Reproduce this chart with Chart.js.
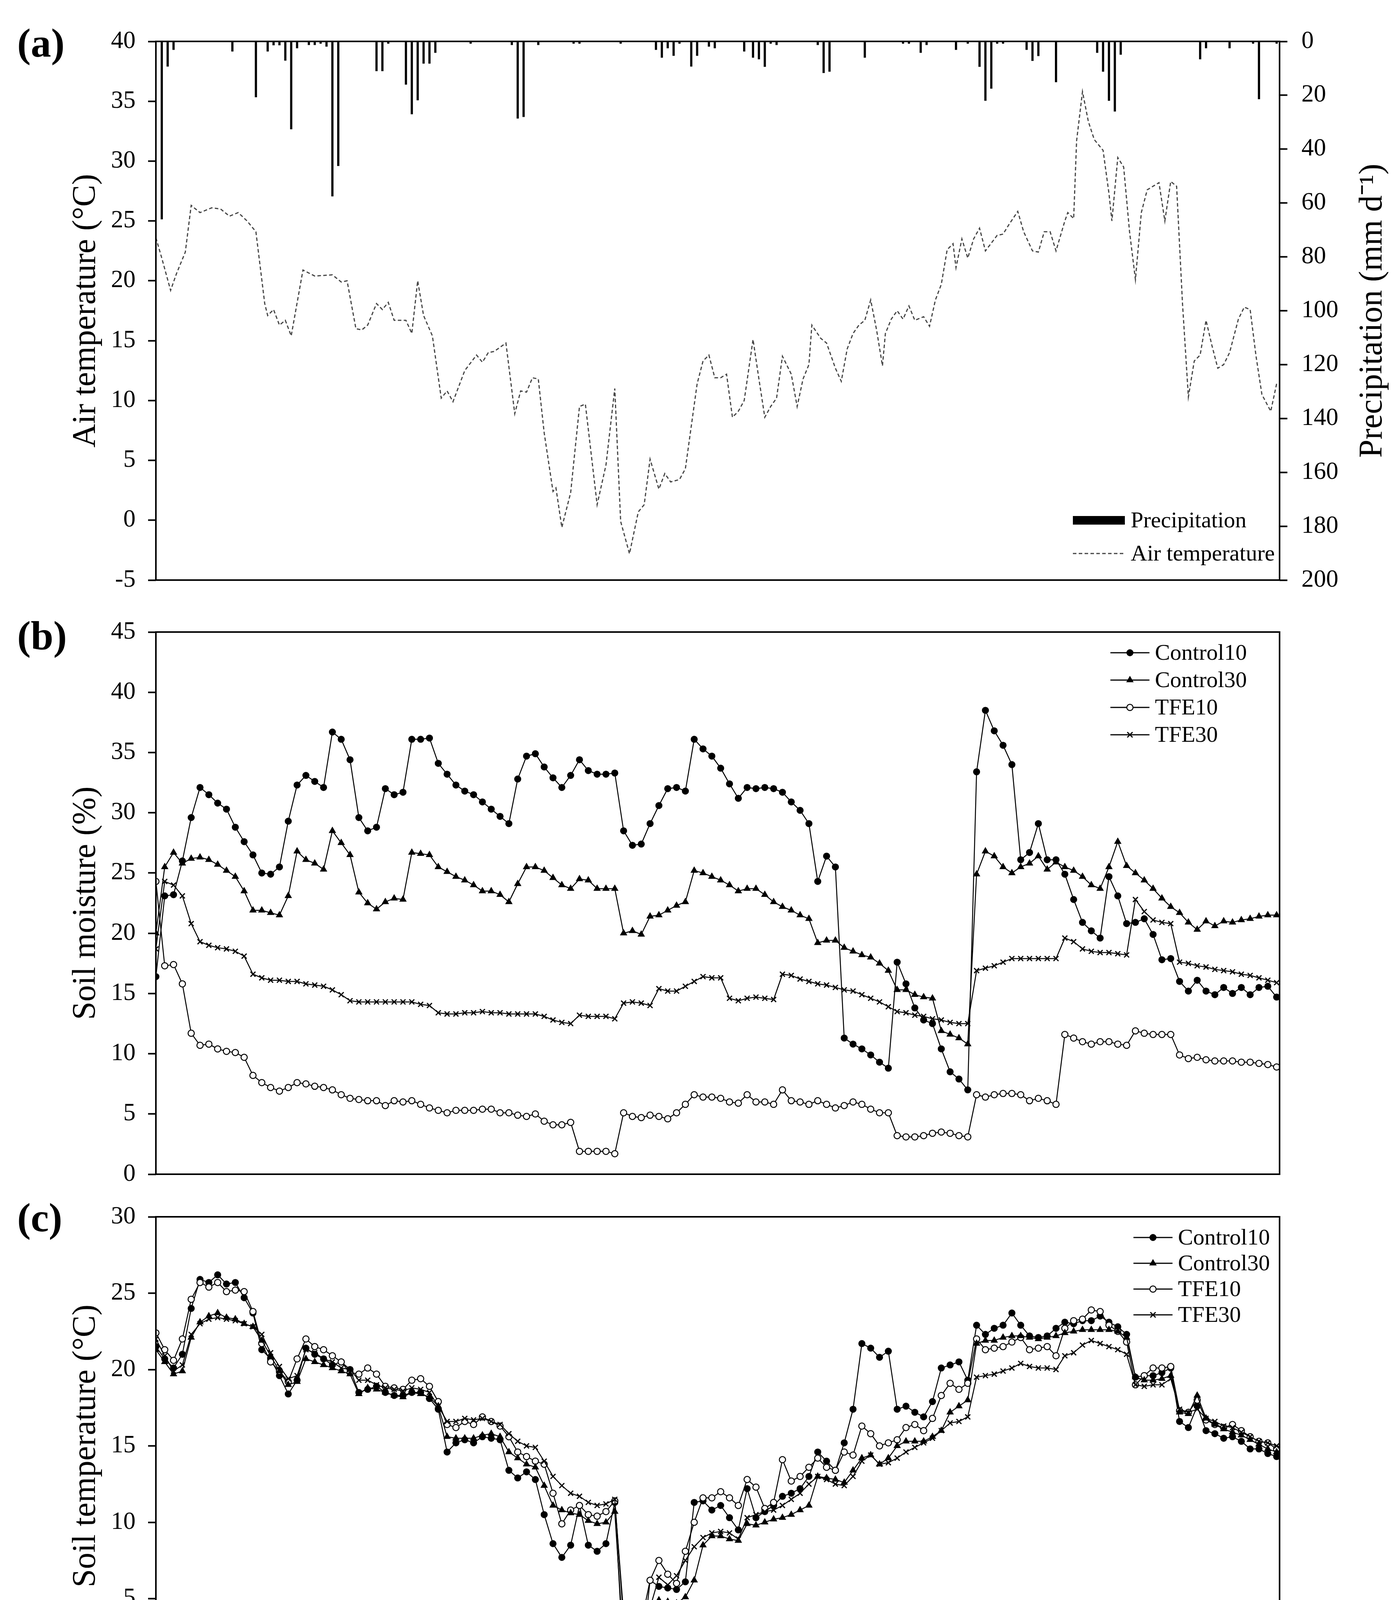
<!DOCTYPE html>
<html>
<head>
<meta charset="utf-8">
<title>Air temperature, soil moisture and soil temperature</title>
<script src="https://cdn.jsdelivr.net/npm/chart.js@4.4.0/dist/chart.umd.min.js"></script>
<style>
  html, body { margin: 0; padding: 0; background: #fff; }
  #page { position: relative; width: 3573px; height: 4612px; background: #fff; }
  #page canvas { position: absolute; left: 0; }
</style>
</head>
<body>
<div id="page">
  <canvas id="airChart" width="3573" height="1530" style="top:0px"></canvas>
  <canvas id="moistChart" width="3573" height="1520" style="top:1530px"></canvas>
  <canvas id="soilTChart" width="3573" height="1562" style="top:3050px"></canvas>
</div>
<script>
// x axis runs over measurement days; the winter gap is left out of the record
const X_MAX = 382;
const SAMPLE_STEP = 3;
const DIVIDER_DAY = 147.3;
const monthDays = [7.6, 36.3, 67.5, 96.8, 127.6, 164.8, 198.1, 231.3, 263.0, 296.3, 329.6, 361.4];
const monthNames = ['Jul', 'Aug', 'Sep', 'Oct', 'Nov', 'Mar', 'Apr', 'Jun', 'July', 'Aug', 'Sep', 'Oct'];
const yearDays = [80.2, 270.1];
const yearNames = ['2016', '2017'];

// (a) precipitation, mm per day
const precipDays = [2,4,6,26,34,38,40,42,44,46,48,52,54,56,58,60,62,75,77,79,85,87,89,91,93,95,107,121,123,125,
  130,142,144,158,170,172,174,176,178,182,184,188,190,200,203,205,207,209,211,225,227,229,241,254,256,260,262,272,276,280,
  282,284,286,288,296,298,300,306,320,322,324,326,328,355,357,365,373,375,381];
const precipMm = [66,9.3,3.1,3.7,20.7,3.7,1.4,1.4,7.1,32.6,2.5,1.3,1.3,0.8,1.9,57.5,46.2,11,11,0.8,16,27,21.8,8.2,8.2,4.2,0.8,1.3,28.6,28,
  1.3,0.8,0.8,0.8,3.1,6,2.5,5.3,0.8,9.3,5.3,1.9,2.5,3.7,6,6.6,9.4,0.8,1.3,1.3,11.7,11.2,6,0.8,0.8,4.2,1.3,3.1,0.8,9.4,
  22,17.5,0.8,0.8,3.1,7.2,5.4,15.1,4.2,11.2,22,26,4.9,6.6,2.5,2.5,0.8,21.4,0.8];

// (a) air temperature, degC
const airDays = [0,2,5,7,10,12,15,19,22,25,28,31,34,37,38,40,42,44,46,50,54,60,63,65,68,70,72,75,77,79,
  81,85,87,89,91,94,97,99,101,105,109,111,113,115,119,122,124,126,128,130,132,135,136,138,141,144,146,150,153,156,
  158,161,164,166,168,171,173,175,178,180,184,186,188,190,192,194,196,198,200,203,205,207,209,211,213,216,218,220,222,223,
  226,228,231,233,235,237,239,241,243,245,247,248,250,252,254,256,258,261,263,265,267,269,271,272,274,276,278,280,282,286,
  288,290,293,295,298,300,302,304,306,309,310,312,313,315,317,319,322,324,325,327,329,331,333,335,337,339,341,343,345,347,
  349,351,353,355,357,359,361,363,365,368,370,372,374,376,379,381];
const airTemp = [23.6,21.9,19.2,20.6,22.4,26.3,25.7,26.1,26.0,25.4,25.7,25.0,24.1,18.1,17.1,17.6,16.3,16.7,15.4,20.9,
  20.4,20.5,19.9,20.0,16.0,15.9,16.3,18.1,17.6,18.2,16.7,16.7,15.6,20.0,17.1,15.4,10.2,10.8,9.9,12.5,
  13.8,13.2,14.0,14.1,14.8,8.9,10.8,10.7,11.9,11.8,7.3,2.4,2.7,-0.6,2.3,9.5,9.7,1.3,4.6,11.0,
  -0.1,-2.8,0.7,1.3,5.1,2.6,3.9,3.2,3.4,4.3,11.4,13.3,13.8,11.9,11.9,12.2,8.6,9.1,10.0,15.1,
  11.8,8.6,9.5,10.2,13.7,12.2,9.5,11.8,13.0,16.3,15.2,14.8,12.7,11.6,14.3,15.6,16.3,16.7,18.4,15.9,
  12.9,15.6,16.8,17.5,16.8,17.9,16.7,17.0,16.2,18.4,19.7,22.6,23.1,21.1,23.5,21.9,23.5,24.4,22.5,23.8,
  23.9,24.7,25.8,24.1,22.5,22.4,24.1,24.1,22.5,25.0,25.7,25.2,31.7,35.8,33.3,31.8,30.9,27.3,25.0,30.3,
  29.5,24.1,20.1,25.7,27.6,27.9,28.2,25.0,28.3,27.9,18.1,10.3,13.3,13.8,16.7,14.6,12.7,13.0,14.0,16.8,
  17.8,17.6,13.7,10.5,9.1,11.4];

// (b) soil moisture, %, one reading every SAMPLE_STEP days
const moistControl10 = [16.4,23.1,23.2,26.0,29.6,32.1,31.5,30.8,30.3,28.8,27.6,26.5,25.0,24.9,25.5,29.3,32.3,33.1,32.6,32.1,
  36.7,36.1,34.4,29.6,28.5,28.8,32.0,31.5,31.7,36.1,36.1,36.2,34.1,33.2,32.3,31.8,31.5,30.9,30.3,29.7,
  29.1,32.8,34.7,34.9,33.8,32.9,32.1,33.1,34.4,33.5,33.2,33.2,33.3,28.5,27.3,27.4,29.1,30.6,32.0,32.1,
  31.8,36.1,35.3,34.7,33.7,32.4,31.2,32.1,32.0,32.1,32.0,31.7,30.9,30.2,29.1,24.3,26.4,25.5,11.3,10.8,
  10.4,9.9,9.3,8.8,17.6,15.8,13.8,12.8,12.5,10.4,8.5,7.9,7.0,33.4,38.5,36.8,35.6,34.0,26.1,26.7,
  29.1,26.1,26.1,24.9,22.8,20.9,20.2,19.6,24.7,23.1,20.8,20.9,21.2,19.9,17.8,17.9,16.0,15.2,16.1,15.2,
  14.9,15.5,15.0,15.5,14.9,15.5,15.6,14.7];
const moistControl30 = [20.0,25.5,26.7,25.8,26.2,26.3,26.1,25.7,25.2,24.7,23.5,21.9,21.9,21.7,21.5,23.1,26.8,26.1,25.8,25.3,
  28.5,27.5,26.5,23.4,22.5,22.0,22.6,22.9,22.8,26.7,26.6,26.5,25.5,25.1,24.7,24.4,24.0,23.5,23.5,23.2,
  22.6,24.1,25.5,25.5,25.2,24.6,24.0,23.7,24.5,24.4,23.7,23.7,23.7,20.0,20.2,19.9,21.4,21.5,21.9,22.3,
  22.6,25.2,25.0,24.7,24.4,24.0,23.5,23.7,23.7,23.2,22.6,22.2,21.9,21.5,21.2,19.2,19.4,19.4,18.8,18.5,
  18.2,18.0,17.5,16.9,15.3,15.3,14.9,14.7,14.6,11.9,11.6,11.3,10.8,24.9,26.8,26.4,25.5,25.0,25.5,25.8,
  26.4,25.3,25.9,25.5,25.2,24.7,24.0,23.7,25.5,27.6,25.6,25.0,24.4,23.7,22.9,22.2,21.7,20.9,20.3,21.0,
  20.6,21.0,20.9,21.1,21.2,21.4,21.5,21.5];
const moistTFE10 = [24.3,17.3,17.4,15.8,11.7,10.7,10.8,10.4,10.2,10.1,9.7,8.2,7.6,7.2,6.9,7.2,7.6,7.5,7.3,7.2,
  7.0,6.6,6.3,6.2,6.1,6.1,5.7,6.1,6.0,6.1,5.8,5.5,5.3,5.1,5.3,5.3,5.3,5.4,5.4,5.1,
  5.1,4.9,4.8,5.0,4.4,4.1,4.1,4.3,1.9,1.9,1.9,1.9,1.7,5.1,4.8,4.7,4.9,4.8,4.6,5.1,
  5.8,6.6,6.4,6.4,6.3,6.0,5.9,6.6,6.0,6.0,5.8,7.0,6.1,6.0,5.8,6.1,5.8,5.5,5.7,6.0,
  5.8,5.4,5.1,5.1,3.2,3.1,3.1,3.2,3.4,3.5,3.4,3.2,3.1,6.6,6.4,6.6,6.7,6.7,6.6,6.1,
  6.3,6.1,5.8,11.6,11.3,11.0,10.8,11.0,11.0,10.8,10.7,11.9,11.7,11.6,11.6,11.6,9.9,9.6,9.7,9.5,
  9.4,9.4,9.4,9.3,9.3,9.2,9.1,8.9];
const moistTFE30 = [18.7,24.3,24.0,23.1,20.8,19.3,19.0,18.8,18.7,18.5,18.1,16.6,16.3,16.1,16.1,16.0,16.0,15.8,15.7,15.6,
  15.3,14.9,14.4,14.3,14.3,14.3,14.3,14.3,14.3,14.3,14.1,14.0,13.4,13.3,13.3,13.4,13.4,13.5,13.4,13.4,
  13.3,13.3,13.3,13.3,13.1,12.8,12.6,12.5,13.2,13.1,13.1,13.1,12.9,14.2,14.3,14.2,14.0,15.4,15.2,15.2,
  15.6,16.0,16.4,16.3,16.3,14.6,14.4,14.6,14.7,14.6,14.5,16.6,16.5,16.2,16.0,15.8,15.7,15.5,15.3,15.2,
  14.9,14.6,14.3,13.9,13.5,13.4,13.2,13.1,12.9,12.8,12.6,12.5,12.5,16.9,17.1,17.3,17.6,17.9,17.9,17.9,
  17.9,17.9,17.9,19.6,19.3,18.7,18.5,18.4,18.4,18.3,18.2,22.8,21.8,21.1,20.9,20.8,17.6,17.5,17.3,17.2,
  17.0,16.9,16.8,16.6,16.5,16.3,16.1,15.9];

// (c) soil temperature, degC, one reading every SAMPLE_STEP days
const soilTControl10 = [21.5,20.7,20.1,21.0,24.0,25.9,25.7,26.2,25.6,25.7,24.7,23.7,21.3,20.7,19.6,18.4,19.3,21.4,21.0,20.7,
  20.3,20.5,20.0,18.5,18.7,18.9,18.5,18.3,18.3,18.5,18.5,18.1,17.4,14.6,15.2,15.4,15.2,15.6,15.5,15.4,
  13.4,12.9,13.3,12.8,10.5,8.6,7.7,8.5,11.1,8.5,8.1,8.6,11.3,0.9,1.1,0.9,6.2,5.8,5.7,5.6,
  6.1,11.3,11.4,10.8,11.1,10.3,9.5,12.2,10.3,10.7,11.1,11.7,11.9,12.2,13.0,14.6,14.0,13.4,15.2,17.4,
  21.7,21.4,20.8,21.2,17.4,17.6,17.2,16.9,17.9,20.1,20.3,20.5,19.3,22.9,22.3,22.7,22.9,23.7,22.9,22.2,
  22.1,22.2,22.7,23.1,23.0,23.2,23.2,23.5,23.1,22.8,22.3,19.5,19.6,19.6,19.8,20.1,16.6,16.2,17.6,16.0,
  15.8,15.5,15.6,15.3,14.8,14.8,14.5,14.3];
const soilTControl30 = [21.3,20.5,19.7,19.9,22.1,23.1,23.5,23.7,23.4,23.3,23.0,22.8,21.9,20.9,19.9,19.0,19.2,20.7,20.5,20.3,
  20.1,19.9,19.7,18.4,18.8,18.7,18.5,18.3,18.2,18.5,18.4,18.2,17.6,15.6,15.5,15.5,15.5,15.7,15.8,15.6,
  14.6,14.2,13.8,13.6,12.4,11.1,10.8,10.6,10.5,10.1,9.9,10.0,10.7,1.9,1.9,1.9,4.6,4.9,4.8,4.7,
  5.1,6.2,8.5,9.1,9.1,8.9,8.8,9.9,9.8,10.0,10.2,10.3,10.5,10.8,11.1,13.0,12.9,12.8,12.6,13.4,
  14.2,14.4,13.8,14.2,15.0,15.3,15.3,15.3,15.6,16.0,17.2,17.6,18.0,21.7,21.9,21.9,22.1,22.2,22.2,22.1,
  22.0,22.1,22.2,22.4,22.5,22.6,22.6,22.6,22.6,22.5,22.1,19.5,19.3,19.3,19.4,19.6,17.2,17.1,18.3,16.8,
  16.4,16.1,15.9,15.7,15.4,15.1,14.8,14.6];
const soilTTFE10 = [22.4,21.3,20.6,22.0,24.6,25.7,25.4,25.7,25.1,25.2,25.1,23.8,21.7,20.5,19.9,19.2,20.7,22.0,21.5,21.3,
  20.9,20.5,19.8,19.7,20.1,19.7,18.9,18.8,18.7,19.3,19.4,18.9,17.9,16.4,16.2,16.6,16.4,16.9,16.6,16.3,
  15.6,14.6,14.3,14.0,13.8,11.9,9.9,10.8,11.1,10.5,10.4,10.7,11.4,4.0,3.8,3.4,6.2,7.5,6.6,6.0,
  8.1,10.0,11.6,11.6,12.0,11.6,11.1,12.8,12.3,10.9,11.3,14.1,12.7,13.0,13.6,14.2,13.6,13.4,14.6,14.4,
  16.3,15.8,15.0,15.2,15.4,16.2,16.4,16.0,16.8,18.3,19.1,18.7,19.1,22.0,21.3,21.4,21.5,21.8,22.1,21.3,
  21.4,21.5,20.9,22.7,23.2,23.3,23.9,23.8,22.9,22.5,21.8,19.0,19.6,20.1,20.1,20.2,17.3,17.2,18.0,16.7,
  16.4,16.2,16.4,16.0,15.6,15.3,15.2,14.8];
const soilTTFE30 = [22.0,20.9,19.9,20.3,22.3,23.0,23.3,23.4,23.3,23.2,23.0,22.8,22.3,21.1,20.2,19.4,19.6,21.3,21.1,20.7,
  20.5,20.1,20.0,19.3,19.3,19.0,18.8,18.7,18.6,18.8,18.7,18.5,17.6,16.6,16.6,16.8,16.7,16.8,16.6,16.4,
  15.8,15.3,15.0,14.9,14.0,13.0,12.4,11.9,11.7,11.3,11.1,11.2,11.5,3.6,3.5,3.6,4.4,6.4,5.9,6.5,
  7.5,8.4,9.0,9.3,9.4,9.3,8.9,10.3,10.5,10.7,10.8,11.1,11.5,11.9,12.5,13.0,12.8,12.5,12.4,13.0,
  14.0,14.4,13.8,13.9,14.2,14.6,14.9,15.2,15.5,16.0,16.5,16.6,16.9,19.5,19.6,19.7,19.9,20.1,20.4,20.2,
  20.1,20.1,20.0,20.9,21.1,21.6,21.9,21.7,21.5,21.3,21.0,19.0,18.9,19.0,19.0,19.4,17.4,17.2,17.4,16.8,
  16.6,16.3,16.2,15.9,15.6,15.3,15.2,15.0];

const FAMILY = "'Liberation Serif', 'Times New Roman', serif";
const INK = '#000';
Chart.defaults.font.family = FAMILY;
Chart.defaults.color = INK;

const sampleDays = moistControl10.map((_, i) => i * SAMPLE_STEP);
const toPoints = (xs, ys) => ys.map((y, i) => ({ x: xs[i], y }));

const seriesStyle = {
  Control10: { pointStyle: 'circle', pointRadius: 8, pointBackgroundColor: INK, pointBorderColor: INK, pointBorderWidth: 2 },
  Control30: { pointStyle: 'triangle', pointRadius: 9, pointBackgroundColor: INK, pointBorderColor: INK, pointBorderWidth: 2 },
  TFE10: { pointStyle: 'circle', pointRadius: 8, pointBackgroundColor: '#fff', pointBorderColor: INK, pointBorderWidth: 2.5 },
  TFE30: { pointStyle: 'crossRot', pointRadius: 9, pointBackgroundColor: '#fff', pointBorderColor: INK, pointBorderWidth: 3 }
};

function soilSet(label, values) {
  return Object.assign({
    label, data: toPoints(sampleDays, values),
    borderColor: INK, borderWidth: 2.5, tension: 0, fill: false
  }, seriesStyle[label]);
}

function drawMarker(ctx, st, x, y) {
  const r = st.pointRadius;
  ctx.save();
  ctx.lineWidth = st.pointBorderWidth;
  ctx.strokeStyle = st.pointBorderColor;
  ctx.fillStyle = st.pointBackgroundColor;
  ctx.beginPath();
  if (st.pointStyle === 'circle') {
    ctx.arc(x, y, r, 0, Math.PI * 2);
    ctx.fill(); ctx.stroke();
  } else if (st.pointStyle === 'triangle') {
    ctx.moveTo(x, y - r);
    ctx.lineTo(x + r * 0.866, y + r * 0.5);
    ctx.lineTo(x - r * 0.866, y + r * 0.5);
    ctx.closePath();
    ctx.fill(); ctx.stroke();
  } else {
    const d = r * 0.75;
    ctx.moveTo(x - d, y - d); ctx.lineTo(x + d, y + d);
    ctx.moveTo(x + d, y - d); ctx.lineTo(x - d, y + d);
    ctx.stroke();
  }
  ctx.restore();
}

const framePlugin = {
  id: 'frame',
  afterDatasetsDraw(chart) {
    const { ctx, chartArea: a } = chart;
    ctx.save();
    ctx.strokeStyle = INK;
    ctx.lineWidth = 4;
    ctx.strokeRect(a.left, a.top, a.right - a.left, a.bottom - a.top);
    ctx.restore();
  }
};

const panelTagPlugin = {
  id: 'panelTag',
  afterDraw(chart, args, o) {
    const ctx = chart.ctx;
    ctx.save();
    ctx.font = `bold 104px ${FAMILY}`;
    ctx.fillStyle = INK;
    ctx.textBaseline = 'middle';
    ctx.fillText(o.text, 44, o.y);
    ctx.restore();
  }
};

const inlineLegendPlugin = {
  id: 'inlineLegend',
  afterDraw(chart, args, o) {
    const ctx = chart.ctx;
    ctx.save();
    ctx.font = `58px ${FAMILY}`;
    ctx.textBaseline = 'middle';
    o.items.forEach((it, i) => {
      const y = o.y + i * o.rowGap;
      const x0 = o.x, x1 = o.x + o.swatch;
      if (it.kind === 'bar') {
        ctx.fillStyle = INK;
        ctx.fillRect(x0, y - 11, o.swatch, 22);
      } else {
        ctx.strokeStyle = it.kind === 'dash' ? '#444' : INK;
        ctx.lineWidth = 3;
        ctx.setLineDash(it.kind === 'dash' ? [9, 6] : []);
        ctx.beginPath(); ctx.moveTo(x0, y); ctx.lineTo(x1, y); ctx.stroke();
        ctx.setLineDash([]);
        if (it.kind === 'series') drawMarker(ctx, seriesStyle[it.label], (x0 + x1) / 2, y);
      }
      ctx.fillStyle = INK;
      ctx.fillText(it.label, x1 + o.gap, y + 3);
    });
    ctx.restore();
  }
};

const sideTitlePlugin = {
  id: 'sideTitle',
  afterDraw(chart, args, o) {
    const { ctx, chartArea: a } = chart;
    ctx.save();
    ctx.translate(o.x, (a.top + a.bottom) / 2);
    ctx.rotate(-Math.PI / 2);
    ctx.font = `84px ${FAMILY}`;
    ctx.fillStyle = INK;
    ctx.textAlign = 'center';
    ctx.textBaseline = 'middle';
    ctx.fillText(o.text, 0, 0);
    ctx.restore();
  }
};

// vertical separators under the bottom axis (start, year break, end)
const yearRulesPlugin = {
  id: 'yearRules',
  afterDraw(chart, args, o) {
    const { ctx, chartArea: a } = chart;
    const sx = chart.scales.x;
    ctx.save();
    ctx.strokeStyle = INK;
    ctx.lineWidth = 3;
    [0, DIVIDER_DAY, X_MAX].forEach(d => {
      const px = Math.round(sx.getPixelForValue(d));
      ctx.beginPath();
      ctx.moveTo(px, a.bottom);
      ctx.lineTo(px, a.bottom + o.depth);
      ctx.stroke();
    });
    ctx.restore();
  }
};

const tickGrid = { drawOnChartArea: false, drawTicks: true, tickLength: 20, tickWidth: 4, tickColor: INK };

// fixed axis width; no extra room reserved for the end labels
function pinAxis(width) {
  return s => { s.width = width; s.paddingTop = 0; s.paddingBottom = 0; };
}

function leftAxis(min, max, step, title) {
  return {
    type: 'linear', position: 'left', min, max,
    ticks: { stepSize: step, font: { size: 63 }, padding: 32 },
    grid: tickGrid,
    border: { display: false },
    title: { display: true, text: title, font: { size: 84 }, padding: { top: 171, bottom: 0 } },
    afterFit: pinAxis(399)
  };
}

function hiddenX() {
  return { type: 'linear', min: 0, max: X_MAX, offset: false, display: false };
}

const common = {
  responsive: false,
  devicePixelRatio: 1,
  animation: false,
  events: [],
  elements: { line: { borderCapStyle: 'butt' } }
};

// (a) precipitation and air temperature
new Chart(document.getElementById('airChart'), {
  type: 'line',
  data: {
    datasets: [
      {
        type: 'line', label: 'Air temperature', yAxisID: 'y',
        data: toPoints(airDays, airTemp),
        borderColor: '#444', borderWidth: 3, borderDash: [9, 6],
        pointRadius: 0, tension: 0, fill: false, order: 1
      },
      {
        type: 'bar', label: 'Precipitation', yAxisID: 'y2',
        data: toPoints(precipDays, precipMm),
        backgroundColor: INK, borderWidth: 0, barThickness: 5, grouped: false, order: 2
      }
    ]
  },
  options: Object.assign({}, common, {
    layout: { padding: { left: 0, right: 0, top: 106, bottom: 45 } },
    scales: {
      x: hiddenX(),
      y: leftAxis(-5, 40, 5, 'Air temperature (°C)'),
      y2: {
        type: 'linear', position: 'right', reverse: true, min: 0, max: 200,
        ticks: { stepSize: 20, font: { size: 63 }, padding: 36 },
        grid: tickGrid,
        border: { display: false },
        afterFit: pinAxis(298)
      }
    },
    plugins: {
      legend: { display: false },
      tooltip: { enabled: false },
      panelTag: { text: '(a)', y: 118 },
      sideTitle: { text: 'Precipitation (mm d⁻¹)', x: 3514 },
      inlineLegend: {
        x: 2746, y: 1332, rowGap: 85, swatch: 133, gap: 15,
        items: [{ label: 'Precipitation', kind: 'bar' }, { label: 'Air temperature', kind: 'dash' }]
      }
    }
  }),
  plugins: [framePlugin, panelTagPlugin, sideTitlePlugin, inlineLegendPlugin]
});

const soilLegendItems = ['Control10', 'Control30', 'TFE10', 'TFE30'].map(l => ({ label: l, kind: 'series' }));

// (b) soil moisture
new Chart(document.getElementById('moistChart'), {
  type: 'line',
  data: {
    datasets: [
      soilSet('TFE30', moistTFE30),
      soilSet('TFE10', moistTFE10),
      soilSet('Control30', moistControl30),
      soilSet('Control10', moistControl10)
    ]
  },
  options: Object.assign({}, common, {
    layout: { padding: { left: 0, right: 298, top: 88, bottom: 44 } },
    scales: {
      x: hiddenX(),
      y: leftAxis(0, 45, 5, 'Soil moisture (%)')
    },
    plugins: {
      legend: { display: false },
      tooltip: { enabled: false },
      panelTag: { text: '(b)', y: 105 },
      inlineLegend: { x: 2842, y: 141, rowGap: 70, swatch: 100, gap: 14, items: soilLegendItems }
    }
  }),
  plugins: [framePlugin, panelTagPlugin, inlineLegendPlugin]
});

// (c) soil temperature, with the shared month / year axis
new Chart(document.getElementById('soilTChart'), {
  type: 'line',
  data: {
    datasets: [
      soilSet('TFE30', soilTTFE30),
      soilSet('Control30', soilTControl30),
      soilSet('TFE10', soilTTFE10),
      soilSet('Control10', soilTControl10)
    ]
  },
  options: Object.assign({}, common, {
    layout: { padding: { left: 0, right: 298, top: 65, bottom: 0 } },
    scales: {
      x: {
        type: 'linear', position: 'bottom', min: 0, max: X_MAX, offset: false, weight: 0,
        grid: { display: false, drawTicks: false },
        border: { display: false },
        afterBuildTicks: axis => { axis.ticks = monthDays.map(v => ({ value: v })); },
        ticks: { autoSkip: false, maxRotation: 0, padding: 34, font: { size: 76 }, callback: (v, i) => monthNames[i] },
        afterFit: s => { s.height = 130; }
      },
      xYear: {
        type: 'linear', position: 'bottom', min: 0, max: X_MAX, offset: false, weight: 1,
        grid: { display: false, drawTicks: false },
        border: { display: false },
        afterBuildTicks: axis => { axis.ticks = yearDays.map(v => ({ value: v })); },
        ticks: { autoSkip: false, maxRotation: 0, padding: 47, font: { size: 76 }, callback: (v, i) => yearNames[i] },
        afterFit: s => { s.height = 194; }
      },
      y: leftAxis(0, 30, 5, 'Soil temperature (°C)')
    },
    plugins: {
      legend: { display: false },
      tooltip: { enabled: false },
      panelTag: { text: '(c)', y: 75 },
      yearRules: { depth: 274 },
      inlineLegend: { x: 2901, y: 118, rowGap: 66, swatch: 100, gap: 14, items: soilLegendItems }
    }
  }),
  plugins: [framePlugin, panelTagPlugin, yearRulesPlugin, inlineLegendPlugin]
});
</script>
</body>
</html>
